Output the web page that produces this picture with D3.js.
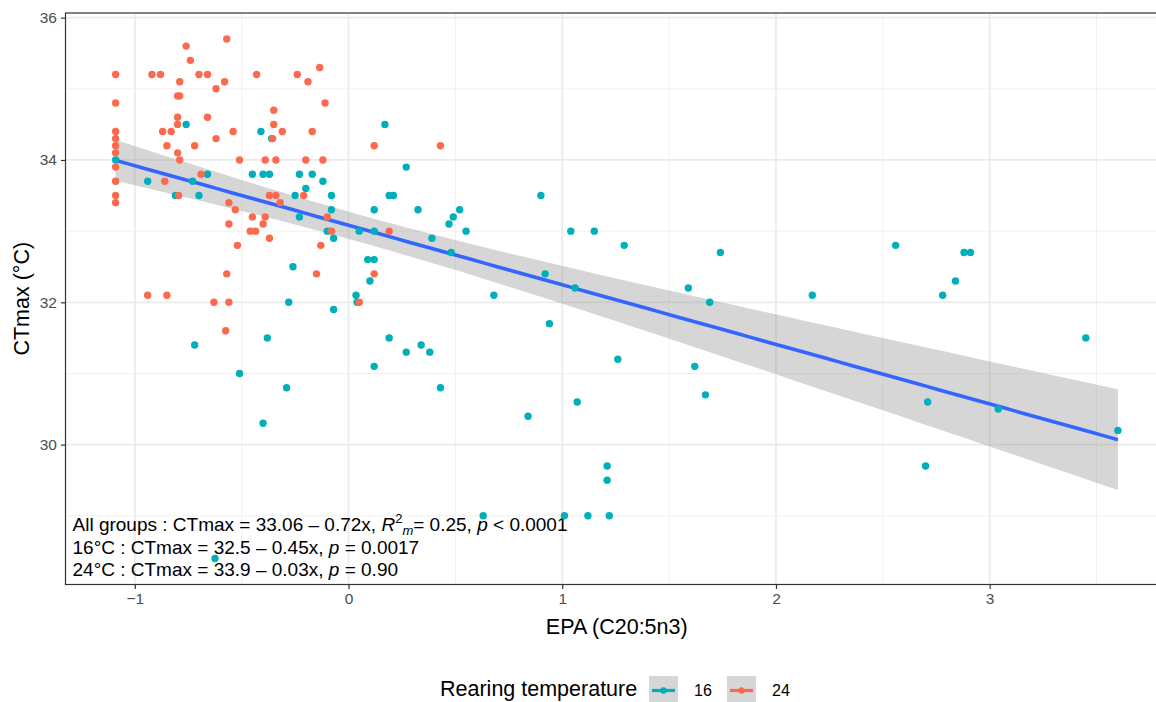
<!DOCTYPE html>
<html>
<head>
<meta charset="utf-8">
<script src="https://cdn.jsdelivr.net/npm/d3@7"></script>
<style>
  html, body { margin: 0; padding: 0; background: #ffffff; }
  svg { display: block; font-family: "Liberation Sans", Arial, sans-serif; }
</style>
</head>
<body>
<script>
// CTmax vs EPA, by rearing temperature
const epa16 = [-1.09, -0.76, -0.36, -0.41, -0.45, -0.40, -0.37, -0.23, -0.17, -0.20,
  -0.12, -0.08, -0.25, -0.08, -0.23, -0.94, -0.73, -0.66, -0.81, -0.70,
  -0.10, -0.07, -0.26, 0.035, -0.28, 0.04, -0.07, -0.38, -0.72, -0.51,
  -0.29, -0.40, -0.625, 0.17, 0.27, 0.19, 0.21, 0.12, 0.325, 0.52,
  0.49, 0.47, 0.05, 0.12, 0.55, 1.04, 1.15, 0.39, 0.48, 0.92,
  1.06, 0.09, 0.12, 0.10, 0.68, 0.94, 0.19, 0.34, 0.27, 0.38,
  0.90, 1.29, 1.74, 1.59, 1.69, 2.17, 1.26, 1.62, 1.67, 1.07,
  0.84, 1.21, 1.21, 1.01, 1.12, 1.22, 0.63, 0.43, 0.12, 2.56,
  2.88, 2.91, 2.84, 2.78, 3.45, 2.71, 3.04, 3.60, 2.70];
const ct16 = [34.0, 34.5, 34.3, 34.4, 33.8, 33.8, 33.8, 33.8, 33.8, 33.6,
  33.7, 33.5, 33.5, 33.3, 33.2, 33.7, 33.7, 33.8, 33.5, 33.5,
  33.0, 32.9, 32.5, 32.1, 32.0, 32.0, 31.9, 31.5, 31.4, 31.0,
  30.8, 30.3, 28.4, 34.5, 33.9, 33.5, 33.5, 33.3, 33.3, 33.3,
  33.2, 33.1, 33.0, 33.0, 33.0, 33.0, 33.0, 32.9, 32.7, 32.4,
  32.2, 32.6, 32.6, 32.3, 32.1, 31.7, 31.5, 31.4, 31.3, 31.3,
  33.5, 32.8, 32.7, 32.2, 32.0, 32.1, 31.2, 31.1, 30.7, 30.6,
  30.4, 29.7, 29.5, 29.0, 29.0, 29.0, 29.0, 30.8, 31.1, 32.8,
  32.7, 32.7, 32.3, 32.1, 31.5, 30.6, 30.5, 30.2, 29.7];

const epa24 = [-1.09, -1.09, -1.09, -1.09, -1.09, -1.09, -1.09, -1.09, -1.09, -1.09,
  -0.92, -0.88, -0.76, -0.74, -0.79, -0.70, -0.66, -0.57, -0.58, -0.62,
  -0.80, -0.79, -0.80, -0.80, -0.66, -0.87, -0.83, -0.54, -0.62, -0.85,
  -0.72, -0.80, -0.79, -0.51, -0.43, -0.35, -0.35, -0.31, -0.355, -0.39,
  -0.34, -0.24, -0.19, -0.135, -0.11, -0.17, -0.20, -0.12, -0.21, -0.10,
  -0.86, -0.69, -0.795, -0.56, -0.53, -0.45, -0.39, -0.32, -0.37, -0.34,
  -0.56, -0.40, -0.46, -0.435, -0.08, -0.37, -0.52, -0.13, -0.57, -0.15,
  -0.94, -0.85, -0.63, -0.56, 0.05, -0.575, 0.12, 0.43, 0.19, 0.12];
const ct24 = [35.2, 34.8, 34.4, 34.3, 34.2, 34.1, 33.9, 33.7, 33.5, 33.4,
  35.2, 35.2, 35.6, 35.4, 35.1, 35.2, 35.2, 35.7, 35.1, 35.0,
  34.9, 34.9, 34.6, 34.5, 34.6, 34.4, 34.4, 34.4, 34.3, 34.2,
  34.2, 34.1, 34.0, 34.0, 35.2, 34.7, 34.5, 34.4, 34.3, 34.0,
  34.0, 35.2, 35.1, 35.3, 34.8, 34.4, 34.0, 34.0, 33.5, 33.2,
  33.7, 33.8, 33.5, 33.4, 33.3, 33.2, 33.2, 33.4, 33.5, 33.5,
  33.1, 33.1, 33.0, 33.0, 33.0, 32.9, 32.8, 32.8, 32.4, 32.4,
  32.1, 32.1, 32.0, 32.0, 32.0, 31.6, 34.2, 34.2, 33.0, 32.4];

const groups = ["16", "24"];
const groupColors = ["#00AFBB", "#FC6A4E"];
const xTicks = [-1, 0, 1, 2, 3];
const yTicks = [30, 32, 34, 36];
const xMinor = [-0.5, 0.5, 1.5, 2.5, 3.5];
const yMinor = [29, 31, 33, 35];
const xTitle = "EPA (C20:5n3)";
const yTitle = "CTmax (°C)";
const legendTitle = "Rearing temperature";

// model summary lines; each piece: [text, style]
const noteLines = [
  [["All groups : CTmax = 33.06 – 0.72x, ", ""], ["R", "i"], ["2", "sup"], ["m", "sub"], ["= 0.25, ", "base"], ["p", "i"], [" < 0.0001", ""]],
  [["16°C : CTmax = 32.5 – 0.45x, ", ""], ["p", "i"], [" = 0.0017", ""]],
  [["24°C : CTmax = 33.9 – 0.03x, ", ""], ["p", "i"], [" = 0.90", ""]]
];

const W = 1156, H = 702;
const panel = { left: 65.5, right: 1168, top: 13, bottom: 584.5 };

const pts = [];
epa16.forEach((v, i) => pts.push({ x: v, y: ct16[i], g: 0 }));
epa24.forEach((v, i) => pts.push({ x: v, y: ct24[i], g: 1 }));

function expand(ext, f = 0.05) {
  const d = ext[1] - ext[0];
  return [ext[0] - d * f, ext[1] + d * f];
}

const xs = d3.scaleLinear().domain(expand(d3.extent(pts, d => d.x))).range([panel.left, panel.right]);
const ys = d3.scaleLinear().domain(expand(d3.extent(pts, d => d.y))).range([panel.bottom, panel.top]);

// pooled least-squares fit with 95% confidence band
const n = pts.length;
const mx = d3.mean(pts, d => d.x), my = d3.mean(pts, d => d.y);
const sxx = d3.sum(pts, d => (d.x - mx) ** 2);
const sxy = d3.sum(pts, d => (d.x - mx) * (d.y - my));
const slope = sxy / sxx, icpt = my - slope * mx;
const rss = d3.sum(pts, d => (d.y - icpt - slope * d.x) ** 2);
const sRes = Math.sqrt(rss / (n - 2));
const tCrit = 1.9742;
const [fx0, fx1] = d3.extent(pts, d => d.x);
const fit = d3.range(80).map(i => {
  const xv = fx0 + (fx1 - fx0) * i / 79;
  const yv = icpt + slope * xv;
  const se = sRes * Math.sqrt(1 / n + (xv - mx) ** 2 / sxx);
  return { x: xv, y: yv, lo: yv - tCrit * se, hi: yv + tCrit * se };
});

const svg = d3.select("body").append("svg").attr("width", W).attr("height", H);

svg.append("defs").append("clipPath").attr("id", "pclip")
  .append("rect").attr("x", panel.left).attr("y", panel.top)
  .attr("width", panel.right - panel.left).attr("height", panel.bottom - panel.top);

const plot = svg.append("g").attr("clip-path", "url(#pclip)");

// grid
plot.selectAll(".gxm").data(xMinor).join("line")
  .attr("x1", d => xs(d)).attr("x2", d => xs(d)).attr("y1", panel.top).attr("y2", panel.bottom)
  .attr("stroke", "#F0F0F0").attr("stroke-width", 1);
plot.selectAll(".gym").data(yMinor).join("line")
  .attr("y1", d => ys(d)).attr("y2", d => ys(d)).attr("x1", panel.left).attr("x2", panel.right)
  .attr("stroke", "#F0F0F0").attr("stroke-width", 1);
plot.selectAll(".gx").data(xTicks).join("line")
  .attr("x1", d => xs(d)).attr("x2", d => xs(d)).attr("y1", panel.top).attr("y2", panel.bottom)
  .attr("stroke", "#EBEBEB").attr("stroke-width", 1.8);
plot.selectAll(".gy").data(yTicks).join("line")
  .attr("y1", d => ys(d)).attr("y2", d => ys(d)).attr("x1", panel.left).attr("x2", panel.right)
  .attr("stroke", "#EBEBEB").attr("stroke-width", 1.8);

// confidence band and fitted line
plot.append("path").datum(fit)
  .attr("d", d3.area().x(d => xs(d.x)).y0(d => ys(d.lo)).y1(d => ys(d.hi)))
  .attr("fill", "#999999").attr("fill-opacity", 0.4);
plot.append("path").datum(fit)
  .attr("d", d3.line().x(d => xs(d.x)).y(d => ys(d.y)))
  .attr("fill", "none").attr("stroke", "#3366FF").attr("stroke-width", 3.6);

// model summary text
const lineY = [531, 553.5, 576];
noteLines.forEach((parts, li) => {
  const t = plot.append("text").attr("x", panel.left + 7).attr("y", lineY[li])
    .attr("font-size", 19).attr("fill", "#000");
  let shift = 0;
  parts.forEach(([txt, st]) => {
    const sp = t.append("tspan").text(txt);
    let target = 0;
    if (st === "i") sp.attr("font-style", "italic");
    if (st === "sup") { target = -8; sp.attr("font-size", 13); }
    if (st === "sub") { target = 4; sp.attr("font-size", 13).attr("font-style", "italic"); }
    sp.attr("dy", target - shift);
    shift = target;
  });
});

// points
plot.selectAll(".pt").data(pts).join("circle")
  .attr("cx", d => xs(d.x)).attr("cy", d => ys(d.y)).attr("r", 3.7)
  .attr("fill", d => groupColors[d.g]);

// panel border
svg.append("rect").attr("x", panel.left).attr("y", panel.top)
  .attr("width", panel.right - panel.left).attr("height", panel.bottom - panel.top)
  .attr("fill", "none").attr("stroke", "#333333").attr("stroke-width", 1.2);

// axes
const xAxis = d3.axisBottom(xs).tickValues(xTicks).tickFormat(d3.format("d")).tickSize(4.5).tickPadding(4);
const yAxis = d3.axisLeft(ys).tickValues(yTicks).tickFormat(d3.format("d")).tickSize(4.5).tickPadding(4);
const gx = svg.append("g").attr("transform", `translate(0,${panel.bottom})`).call(xAxis);
const gy = svg.append("g").attr("transform", `translate(${panel.left},0)`).call(yAxis);
[gx, gy].forEach(g => {
  g.select(".domain").remove();
  g.selectAll(".tick line").attr("stroke", "#333333").attr("stroke-width", 1.2);
  g.selectAll(".tick text").attr("fill", "#4D4D4D").attr("font-size", 15.5)
    .attr("font-family", "Liberation Sans, Arial, sans-serif");
});

// axis titles
svg.append("text").attr("x", (panel.left + panel.right) / 2).attr("y", 634)
  .attr("text-anchor", "middle").attr("font-size", 21.5).attr("fill", "#000").text(xTitle);
svg.append("text").attr("transform", `translate(29,${(panel.top + panel.bottom) / 2}) rotate(-90)`)
  .attr("text-anchor", "middle").attr("font-size", 21.5).attr("fill", "#000").text(yTitle);

// legend
const leg = svg.append("g");
leg.append("text").attr("x", 440).attr("y", 696).attr("font-size", 21.5).attr("fill", "#000").text(legendTitle);
const keyX = [649, 727];
groups.forEach((g, i) => {
  const kx = keyX[i], ky = 676;
  leg.append("rect").attr("x", kx).attr("y", ky).attr("width", 29).attr("height", 26)
    .attr("fill", "#999999").attr("fill-opacity", 0.4);
  leg.append("line").attr("x1", kx + 3).attr("x2", kx + 26).attr("y1", ky + 14.5).attr("y2", ky + 14.5)
    .attr("stroke", groupColors[i]).attr("stroke-width", 3.2);
  leg.append("circle").attr("cx", kx + 14.5).attr("cy", ky + 14.5).attr("r", 3.2).attr("fill", groupColors[i]);
  leg.append("text").attr("x", kx + 45).attr("y", ky + 20).attr("font-size", 16).attr("fill", "#000").text(g);
});
</script>
</body>
</html>
